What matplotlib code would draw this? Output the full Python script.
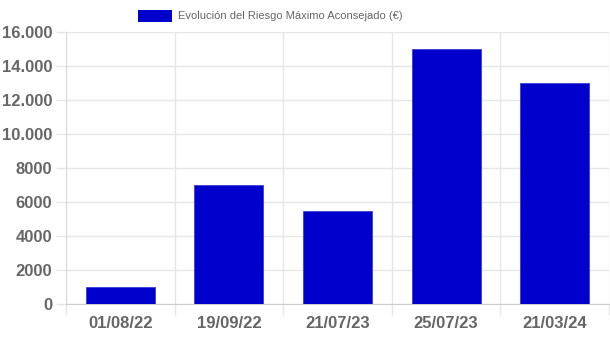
import matplotlib.pyplot as plt
from matplotlib.patches import Rectangle
from matplotlib.ticker import FuncFormatter

# Data
fechas = ['01/08/22', '19/09/22', '21/07/23', '25/07/23', '21/03/24']
riesgo = [1000, 7000, 5500, 15000, 13000]
y_ticks = [0, 2000, 4000, 6000, 8000, 10000, 12000, 14000, 16000]

plt.rcParams['font.family'] = ['Liberation Sans', 'DejaVu Sans']

grid_c = '#e6e6e6'
text_c = '#666666'
bar_c = '#0000cc'

fig = plt.figure(figsize=(6.10, 3.39), dpi=100)
ax = fig.add_axes([66 / 610, 1 - 304 / 339, 543 / 610, 272 / 339])

x = list(range(len(fechas)))
ax.bar(x, riesgo, width=0.635, color=bar_c, edgecolor='#3b3bd9', linewidth=0.6, zorder=3)

ax.set_xlim(-0.5, len(fechas) - 0.5)
ax.set_ylim(0, 16000)

# vertical grid lines sit between categories
ax.set_xticks([i - 0.5 for i in range(len(fechas) + 1)], minor=False)
ax.set_xticklabels([])
ax.set_xticks(x, minor=True)
ax.set_xticklabels(fechas, minor=True)
ax.tick_params(axis='x', which='major', length=8, color=grid_c, width=1)
ax.tick_params(axis='x', which='minor', length=0, pad=9, labelsize=12, labelcolor=text_c)
for lbl in ax.get_xticklabels(minor=True):
    lbl.set_fontweight('bold')

ax.set_yticks(y_ticks)
ax.yaxis.set_major_formatter(FuncFormatter(
    lambda v, p: f'{int(v):,}'.replace(',', '.') if v >= 10000 else f'{int(v)}'))
ax.tick_params(axis='y', length=7, color=grid_c, width=1, pad=3, labelsize=12, labelcolor=text_c)
for lbl in ax.get_yticklabels():
    lbl.set_fontweight('bold')

ax.grid(True, which='major', color=grid_c, linewidth=1, zorder=0)
for side in ['top', 'right']:
    ax.spines[side].set_visible(False)
ax.spines['left'].set_color('#d9d9d9')
ax.spines['bottom'].set_color('#cccccc')

# legend on top, Chart.js style
fig.patches.append(Rectangle((138 / 610, 1 - 22 / 339), 34 / 610, 12 / 339,
                             transform=fig.transFigure, facecolor=bar_c, edgecolor='none'))
fig.text(178 / 610, 1 - 16 / 339, 'Evolución del Riesgo Máximo Aconsejado (€)',
         fontsize=8, color=text_c, va='center', ha='left')

fig.savefig('out.png', dpi=100)
